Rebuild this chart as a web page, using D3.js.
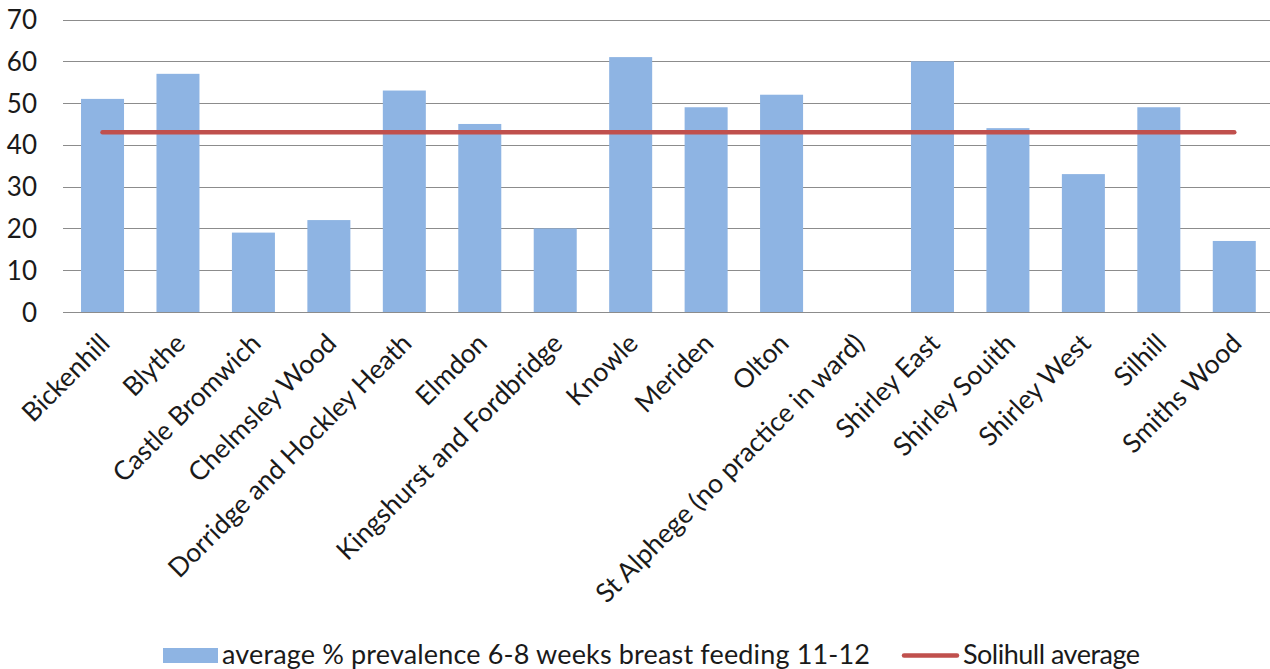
<!DOCTYPE html>
<html>
<head>
<meta charset="utf-8">
<script src="https://cdn.jsdelivr.net/npm/d3@7"></script>
<style>
  html, body { margin: 0; padding: 0; background: #fff; }
  svg { display: block; }
  text { font-family: Lato, "Open Sans", sans-serif; fill: #1a1a1a; }
</style>
</head>
<body>
<svg id="chart" width="1270" height="669"></svg>
<script>
// Wards of Solihull and 6-8 week breast feeding prevalence (%), 2011-12
const wards = [
  "Bickenhill", "Blythe", "Castle Bromwich", "Chelmsley Wood",
  "Dorridge and Hockley Heath", "Elmdon", "Kingshurst and Fordbridge",
  "Knowle", "Meriden", "Olton", "St Alphege (no practice in ward)",
  "Shirley East", "Shirley Souith", "Shirley West", "Silhill", "Smiths Wood"
];
const prevalence = [51, 57, 19, 22, 53, 45, 20, 61, 49, 52, null, 60, 44, 33, 49, 17];
const solihullAverage = [43, 43, 43, 43, 43, 43, 43, 43, 43, 43, 43, 43, 43, 43, 43, 43];
const yTicks = [0, 10, 20, 30, 40, 50, 60, 70];
const seriesNames = ["average % prevalence 6-8 weeks breast feeding 11-12", "Solihull average"];

const barColor = "#8eb4e3";
const lineColor = "#c0504d";
const gridColor = "#8c8c8c";

const svg = d3.select("#chart");

const x = d3.scaleBand()
  .domain(wards)
  .range([64.8, 1272])
  .paddingInner(0.43)
  .paddingOuter(0.215);

const y = d3.scaleLinear()
  .domain([0, 70])
  .range([312, 19.5]);

// horizontal gridlines (the 0 line doubles as the category axis)
svg.append("g")
  .selectAll("line")
  .data(yTicks)
  .join("line")
  .attr("x1", 63)
  .attr("x2", 1270)
  .attr("y1", d => Math.round(y(d)) + 0.5)
  .attr("y2", d => Math.round(y(d)) + 0.5)
  .attr("stroke", gridColor)
  .attr("stroke-width", 1.2);

// value axis labels
const yAxis = d3.axisLeft(y).tickValues(yTicks).tickSize(0).tickPadding(0);
const yg = svg.append("g")
  .attr("transform", "translate(37,0)")
  .call(yAxis);
yg.select(".domain").remove();
yg.selectAll("text")
  .attr("font-size", 26)
  .attr("font-family", "Lato, 'Open Sans', sans-serif")
  .attr("fill", "#1a1a1a")
  .attr("dy", "0.35em");

// bars
svg.append("g")
  .selectAll("rect")
  .data(wards.map((w, i) => ({ ward: w, value: prevalence[i] })).filter(d => d.value != null))
  .join("rect")
  .attr("x", d => x(d.ward))
  .attr("width", x.bandwidth())
  .attr("y", d => y(d.value))
  .attr("height", d => y(0) - y(d.value))
  .attr("fill", barColor);

// Solihull average line
const line = d3.line()
  .x((d, i) => x(wards[i]) + x.bandwidth() / 2)
  .y(d => y(d));
svg.append("path")
  .datum(solihullAverage)
  .attr("d", line)
  .attr("fill", "none")
  .attr("stroke", lineColor)
  .attr("stroke-width", 4.5)
  .attr("stroke-linecap", "round");

// rotated category labels
svg.append("g")
  .selectAll("text")
  .data(wards)
  .join("text")
  .attr("transform", d => `translate(${x(d) + x.bandwidth() / 2 + 9},${345}) rotate(-45)`)
  .attr("text-anchor", "end")
  .attr("font-size", 26.5)
  .text(d => d);

// legend
const legend = svg.append("g");
legend.append("rect")
  .attr("x", 163).attr("y", 648)
  .attr("width", 55).attr("height", 15)
  .attr("fill", barColor);
legend.append("text")
  .attr("x", 222).attr("y", 664)
  .attr("font-size", 27)
  .attr("textLength", 648)
  .attr("lengthAdjust", "spacing")
  .text(seriesNames[0]);
legend.append("line")
  .attr("x1", 904).attr("x2", 957)
  .attr("y1", 655.5).attr("y2", 655.5)
  .attr("stroke", lineColor)
  .attr("stroke-width", 4.5)
  .attr("stroke-linecap", "round");
legend.append("text")
  .attr("x", 963).attr("y", 664)
  .attr("font-size", 27)
  .attr("textLength", 177)
  .attr("lengthAdjust", "spacing")
  .text(seriesNames[1]);
</script>
</body>
</html>
